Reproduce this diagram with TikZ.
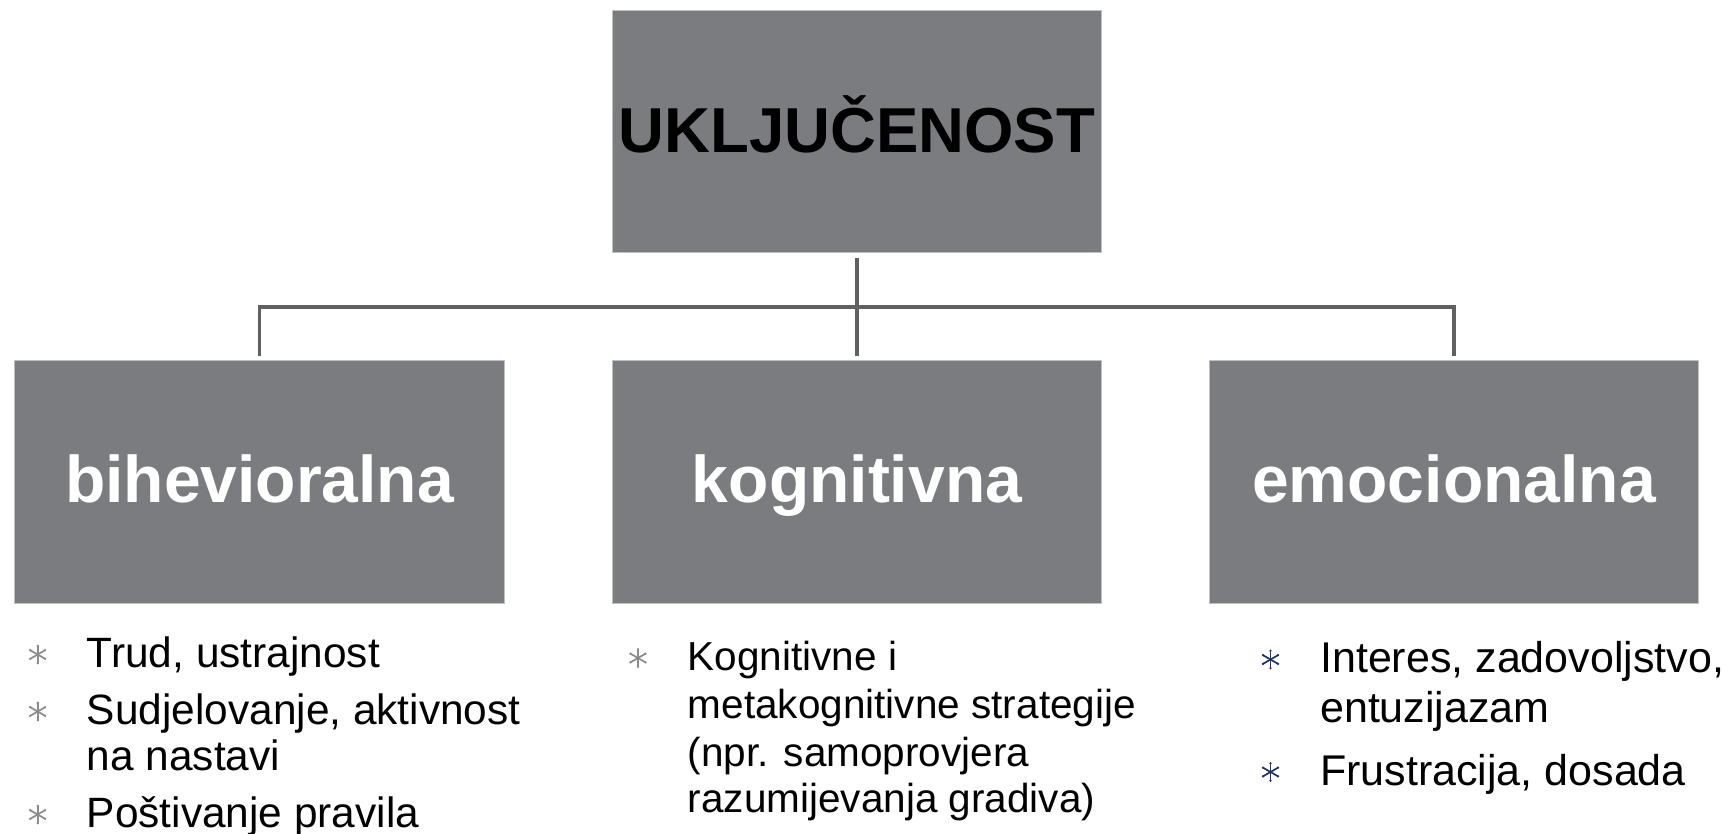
\documentclass[tikz,border=0pt]{standalone}
\usepackage{fontspec}
\setmainfont{Liberation Sans}
\definecolor{boxgray}{RGB}{123,124,128}
\definecolor{boxedge}{RGB}{192,192,194}
\definecolor{linegray}{RGB}{96,96,96}
\definecolor{bulgray}{RGB}{140,140,140}
\definecolor{bulnavy}{RGB}{31,52,110}
\begin{document}
\begin{tikzpicture}[x=1pt,y=-1pt,
  cbox/.style={rectangle, fill=boxgray, draw=boxedge, line width=1pt,
    minimum width=489pt, minimum height=243pt, inner sep=0pt, anchor=north west},
  headtext/.style={font=\fontsize{63.5}{63.5}\selectfont\bfseries, text=black,
    text height=46pt, text depth=4.6pt},
  subtext/.style={font=\fontsize{66}{66}\selectfont\bfseries, text=white,
    text height=47.5pt, text depth=6.5pt},
  conn/.style={draw=linegray, line width=3.5pt},
  itemline/.style={anchor=base west, inner sep=0pt, text=black},
  bul/.style={circle, minimum size=20pt, inner sep=0pt,
    path picture={
      \foreach \a in {90,30,150}{
        \draw[#1, line width=1.7pt, line cap=round]
          ([shift={(\a:9pt)}]path picture bounding box.center) --
          ([shift={(\a+180:9pt)}]path picture bounding box.center);
        \fill[#1] ([shift={(\a:8.6pt)}]path picture bounding box.center) circle (1.3pt);
        \fill[#1] ([shift={(\a+180:8.6pt)}]path picture bounding box.center) circle (1.3pt);
      }}},
]
\useasboundingbox (0,0) rectangle (1724,833);
\fill[white] (0,0) rectangle (1724,833);

% boxes
\node[cbox, headtext, minimum height=242pt] (top) at (612,10) {UKLJUČENOST};
\node[cbox, subtext, minimum width=490pt] (beh) at (14,360) {bihevioralna};
\node[cbox, subtext] (kog) at (612,360) {kognitivna};
\node[cbox, subtext] (emo) at (1209,360) {emocionalna};

% connectors
\coordinate (bus) at (857,307);
\draw[conn, shorten <=5pt, shorten >=4pt] (top.south) -- (kog.north);
\draw[conn, shorten <=4pt, shorten >=4pt] (beh.north) |- (bus) -| (emo.north);

% left list
\begin{scope}[every node/.append style={font=\fontsize{42.4}{42.4}\selectfont}]
\node[bul=bulgray] (bl1) at (37.7,654.5) {};
\node[itemline] (l1) at (86.7,667) {Trud, ustrajnost};
\node[bul=bulgray] (bl2) at (37.7,711.5) {};
\node[itemline] (l2) at (86.7,724) {Sudjelovanje, aktivnost};
\node[itemline] (l3) at (86.7,770) {na nastavi};
\node[bul=bulgray] (bl3) at (37.7,814.5) {};
\node[itemline] (l4) at (86.7,827) {Poštivanje pravila};
\end{scope}

% middle list
\begin{scope}[every node/.append style={font=\fontsize{40.5}{40.5}\selectfont}]
\node[bul=bulgray] (bm1) at (638,658) {};
\node[itemline] (m1) at (687.7,670.7) {Kognitivne i};
\node[itemline] (m2) at (687.7,718) {metakognitivne strategije};
\node[itemline] (m3) at (687.7,766) {(npr. samoprovjera};
\node[itemline] (m4) at (687.7,812.7) {razumijevanja gradiva)};
\end{scope}

% right list
\begin{scope}[every node/.append style={font=\fontsize{43}{43}\selectfont}]
\node[bul=bulnavy] (br1) at (1270.5,659.5) {};
\node[itemline] (r1) at (1320,672.7) {Interes, zadovoljstvo,};
\node[itemline] (r2) at (1320,722.7) {entuzijazam};
\node[bul=bulnavy] (br2) at (1270.5,772) {};
\node[itemline] (r3) at (1320,785) {Frustracija, dosada};
\end{scope}
\end{tikzpicture}
\end{document}
